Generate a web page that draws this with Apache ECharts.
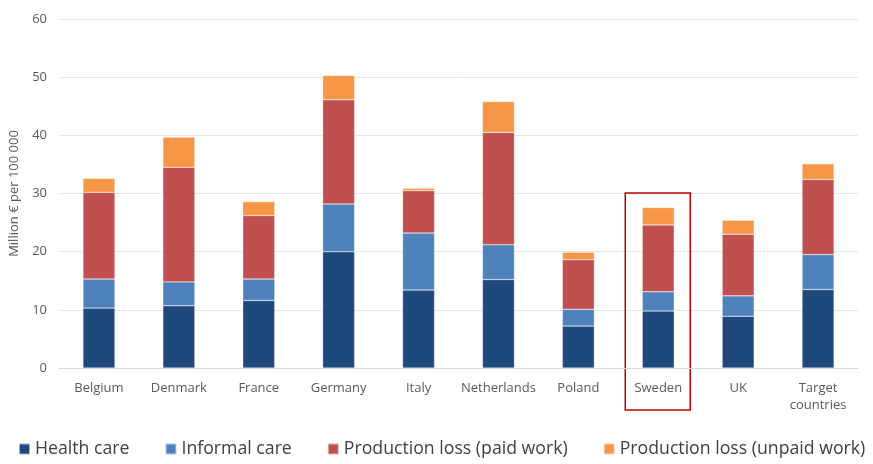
<!DOCTYPE html>
<html><head><meta charset="utf-8">
<script src="https://cdn.jsdelivr.net/npm/echarts@6/dist/echarts.min.js"></script>
<style>html,body{margin:0;padding:0;background:#fff}#c{width:873px;height:464px}</style>
</head><body><div id="c"></div>
<script>
var categories = ['Belgium','Denmark','France','Germany','Italy','Netherlands','Poland','Sweden','UK','Target\ncountries'];
var healthCare = [10.3,10.7,11.6,20.0,13.4,15.2,7.2,9.8,8.9,13.5];
var informalCare = [5.0,4.1,3.7,8.2,9.8,6.0,2.9,3.3,3.5,6.0];
var paidWork = [14.9,19.7,10.9,17.9,7.3,19.3,8.5,11.5,10.6,12.9];
var unpaidWork = [2.4,5.2,2.4,4.2,0.4,5.3,1.3,3.0,2.4,2.7];
var yTicks = [0,10,20,30,40,50,60];
var seriesNames = ['Health care','Informal care','Production loss (paid work)','Production loss (unpaid work)'];
var colors = ['#1F497D','#4F81BD','#C0504D','#F79646'];
var highlight = 'Sweden';

var chart = echarts.init(document.getElementById('c'));
var font = 'Open Sans';
function mk(i, data){
  return {name: seriesNames[i], type:'bar', stack:'t', data:data, barWidth:32,
    itemStyle:{color:colors[i], borderColor:'rgba(255,255,255,0.6)', borderWidth:0.5}};
}
chart.setOption({
  animation:false,
  textStyle:{fontFamily:font},
  grid:{left:59,right:15,top:19,bottom:96,containLabel:false,outerBoundsMode:'none'},
  legend:{left:13,bottom:1,width:870,padding:[5,0,5,5],itemWidth:11,itemHeight:11,itemGap:35,icon:'rect',
    textStyle:{fontSize:17.7,color:'#404040',fontFamily:font}, data:seriesNames},
  xAxis:{type:'category',data:categories,
    axisLine:{lineStyle:{color:'#d9d9d9'}},axisTick:{show:false},
    axisLabel:{color:'#595959',fontSize:13,margin:12,lineHeight:17,interval:0}},
  yAxis:{type:'value',min:yTicks[0],max:yTicks[yTicks.length-1],interval:10,
    name:'Million € per 100 000',nameLocation:'middle',nameGap:38,
    nameTextStyle:{color:'#595959',fontSize:13},
    axisLabel:{color:'#595959',fontSize:13,margin:12},
    splitLine:{lineStyle:{color:'#e6e6e6'}}},
  series:[mk(0,healthCare),mk(1,informalCare),mk(2,paidWork),mk(3,unpaidWork)]
});
var idx = categories.indexOf(highlight);
var p0 = chart.convertToPixel({xAxisIndex:0,yAxisIndex:0},[idx,30.1]);
var p1 = chart.convertToPixel({xAxisIndex:0,yAxisIndex:0},[idx,0]);
var cx = p0[0];
chart.setOption({graphic:[{type:'rect',shape:{x:cx-33,y:p0[1],width:65,height:p1[1]+42-p0[1]},
  style:{fill:'none',stroke:'#C00000',lineWidth:1.5}}]});
</script></body></html>
